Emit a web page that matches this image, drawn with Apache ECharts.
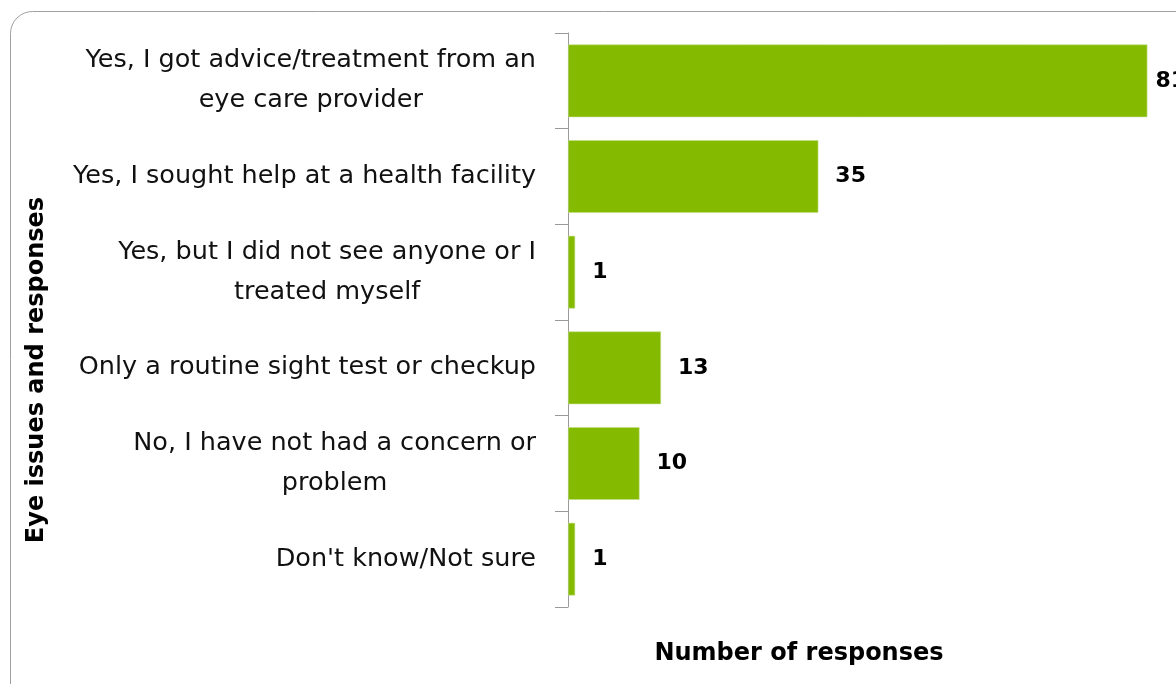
<!DOCTYPE html>
<html>
<head>
<meta charset="utf-8">
<script src="https://cdn.jsdelivr.net/npm/echarts@6/dist/echarts.min.js"></script>
<style>
html,body{margin:0;padding:0;background:#fff;}
#chart{width:1176px;height:684px;}
</style>
</head>
<body>
<div id="chart"></div>
<script>
const categories = [
  'Yes, I got advice/treatment from an\neye care provider',
  'Yes, I sought help at a health facility',
  'Yes, but I did not see anyone or I\ntreated myself',
  'Only a routine sight test or checkup',
  'No, I have not had a concern or\nproblem',
  "Don't know/Not sure"
];
const responses = [81, 35, 1, 13, 10, 1];
const xAxisTitle = 'Number of responses';
const yAxisTitle = 'Eye issues and responses';

const FONT = '"DejaVu Sans"';
const chart = echarts.init(document.getElementById('chart'), null, {renderer: 'canvas'});
chart.setOption({
  backgroundColor: '#fff',
  animation: false,
  grid: {left: 568, right: 0, top: 33, bottom: 77, containLabel: false},
  xAxis: {
    type: 'value', min: 0, max: 85,
    axisLine: {show: false}, axisTick: {show: false},
    axisLabel: {show: false}, splitLine: {show: false}
  },
  yAxis: {
    type: 'category', inverse: true, data: categories,
    axisLine: {show: true, lineStyle: {color: '#9a9a9a', width: 1}},
    axisTick: {show: true, length: 13, lineStyle: {color: '#9a9a9a', width: 1}},
    axisLabel: {
      margin: 32, align: 'right',
      formatter: function (v) {
        return v.split('\n').map(function (l) { return '{c|' + l + '}'; }).join('\n');
      },
      rich: {c: {align: 'center', fontFamily: FONT, fontSize: 25.5, color: '#111', lineHeight: 40}}
    }
  },
  title: [{
    text: xAxisTitle, left: 794, top: 637, textAlign: 'center',
    textStyle: {fontFamily: FONT, fontSize: 24, fontWeight: 'bold', color: '#000'}
  }],
  graphic: [
    {type: 'rect', silent: true, z: -1,
     shape: {x: 10.5, y: 11.5, width: 1200, height: 700, r: 22},
     style: {fill: 'none', stroke: '#a0a0a0', lineWidth: 1}},
    {type: 'text', x: 37, y: 370, rotation: Math.PI / 2,
     style: {text: yAxisTitle, fontFamily: FONT, fontSize: 24, fontWeight: 'bold',
             fill: '#000', align: 'center', verticalAlign: 'middle'}}
  ],
  series: [{
    type: 'bar',
    data: responses.map(function (v, i) {
      return i === 0 ? {value: v, label: {distance: 8}} : v;
    }),
    barCategoryGap: '24%',
    itemStyle: {color: '#84BA00', borderColor: '#c5df8c', borderWidth: 0.6},
    label: {show: true, position: 'right', distance: 17,
            fontFamily: FONT, fontSize: 22, fontWeight: 'bold', color: '#000'}
  }]
});
</script>
</body>
</html>
